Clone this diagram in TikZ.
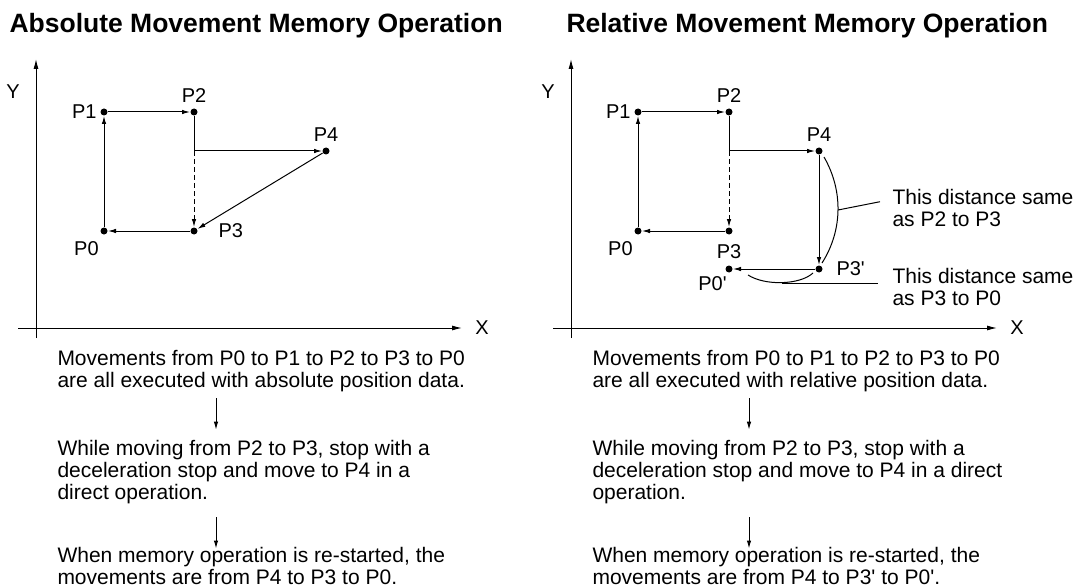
\documentclass[tikz,border=0pt]{standalone}
\usepackage{fontspec}
\setmainfont{Liberation Sans}
\usetikzlibrary{arrows.meta, calc, positioning}

\begin{document}
\begin{tikzpicture}[x=1pt, y=-1pt, >={Latex[length=8pt,width=4.5pt]}, line width=1pt,
    dot/.style={circle, fill, inner sep=0pt, minimum size=7pt},
    plabel/.style={font=\fontsize{20}{22}\selectfont, inner sep=1pt},
    body/.style={font=\fontsize{21}{22}\selectfont, align=left, anchor=north west, inner sep=0pt},
    heading/.style={font=\fontsize{26.5}{30}\selectfont\bfseries, anchor=base west, inner sep=0pt},
    axis/.style={->, >={Latex[length=10pt,width=5pt]}},
    dashline/.style={dash pattern=on 5pt off 3pt}]

    \useasboundingbox (0,0) rectangle (1083,588);

    % 1. Titles
    \node[heading] (tA) at (9,33) {Absolute Movement Memory Operation};
    \node[heading] (tR) at (566,33) {Relative Movement Memory Operation};

    % 2. Axes
    \foreach \ox in {36, 571} {
        \draw[axis] (\ox-18,328) -- (\ox+426,328);
        \draw[axis] (\ox,338) -- (\ox,59);
        \node[plabel] at (\ox+446,328) {X};
        \node[plabel] at (\ox-23,92) {Y};
    }

    % 3. Absolute: points
    \foreach \n/\x/\y in {a0/104/231, a1/104/112, a2/194/112, a3/194/231, a4/326/151}
        \node[dot] (\n) at (\x,\y) {};
    \coordinate (ab) at (194,151);
    \node[plabel, left=2pt of a1] {P1};
    \node[plabel, above=4pt of a2] {P2};
    \node[plabel, above=4pt of a4] {P4};
    \node[plabel, right=19pt of a3] {P3};
    \node[plabel, below left=6pt and 1pt of a0] {P0};

    \draw[->] (a0) -- (a1);
    \draw[->] (a1) -- (a2);
    \draw (a2) -- (ab);
    \draw[->] (ab) -- (a4);
    \draw[->, dashline] (ab) -- (a3);
    \draw[->] (a4) -- (a3);
    \draw[->] (a3) -- (a0);

    % 4. Relative: points
    \foreach \n/\x/\y in {r0/638/231, r1/638/112, r2/729/112, r3/729/231, r4/819/151, r5/819/269, r6/729/269}
        \node[dot] (\n) at (\x,\y) {};
    \coordinate (rb) at (729,151);
    \node[plabel, left=2pt of r1] {P1};
    \node[plabel, above=4pt of r2] {P2};
    \node[plabel, above=4pt of r4] {P4};
    \node[plabel, below=8pt of r3] {P3};
    \node[plabel, below left=6pt and 1pt of r0] {P0};
    \node[plabel, right=12pt of r5] {P3\textquotesingle};
    \node[plabel, below left=3pt and -2pt of r6] {P0\textquotesingle};

    \draw[->] (r0) -- (r1);
    \draw[->] (r1) -- (r2);
    \draw (r2) -- (rb);
    \draw[->] (rb) -- (r4);
    \draw[->, dashline] (rb) -- (r3);
    \draw[->] (r3) -- (r0);
    \draw[->] (r4) -- (r5);
    \draw[->] (r5) -- (r6);

    % 5. Distance notes
    \node[body] (d1) at (892,188.5) {This distance same\\as P2 to P3};
    \node[body] (d2) at (892,267.5) {This distance same\\as P3 to P0};
    \coordinate (c1) at (838,210);
    \coordinate (c2) at (782,283);
    \draw (824,157) .. controls (843,190) and (843,230) .. (822,263);
    \draw (c1) -- ($(d1.west)+(-12,-6)$);
    \draw (748,275) .. controls (765,286) and (800,285) .. (813,273);
    \draw (c2) -- ($(d2.north west)+(-14,15.5)$);

    % 6. Steps below the graphs
    \node[body] (sA1) at (57,349.7) {Movements from P0 to P1 to P2 to P3 to P0\\are all executed with absolute position data.};
    \node[body] (sA2) at (57,439.7) {While moving from P2 to P3, stop with a\\deceleration stop and move to P4 in a\\direct operation.};
    \node[body] (sA3) at (57,546.5) {When memory operation is re-started, the\\movements are from P4 to P3 to P0.};
    \node[body] (sR1) at (592,349.7) {Movements from P0 to P1 to P2 to P3 to P0\\are all executed with relative position data.};
    \node[body] (sR2) at (592,439.7) {While moving from P2 to P3, stop with a\\deceleration stop and move to P4 in a direct\\operation.};
    \node[body] (sR3) at (592,546.5) {When memory operation is re-started, the\\movements are from P4 to P3\textquotesingle{} to P0\textquotesingle.};

    \coordinate (xA) at (216,0);
    \coordinate (xR) at (749,0);
    \foreach \s in {A, R} {
        \draw[->] ($(s\s1.south -| x\s)+(0,6)$) -- ($(s\s2.north -| x\s)+(0,-10)$);
        \draw[->] ($(s\s2.south -| x\s)+(0,13)$) -- ($(s\s3.north -| x\s)+(0,2)$);
    }
\end{tikzpicture}
\end{document}
